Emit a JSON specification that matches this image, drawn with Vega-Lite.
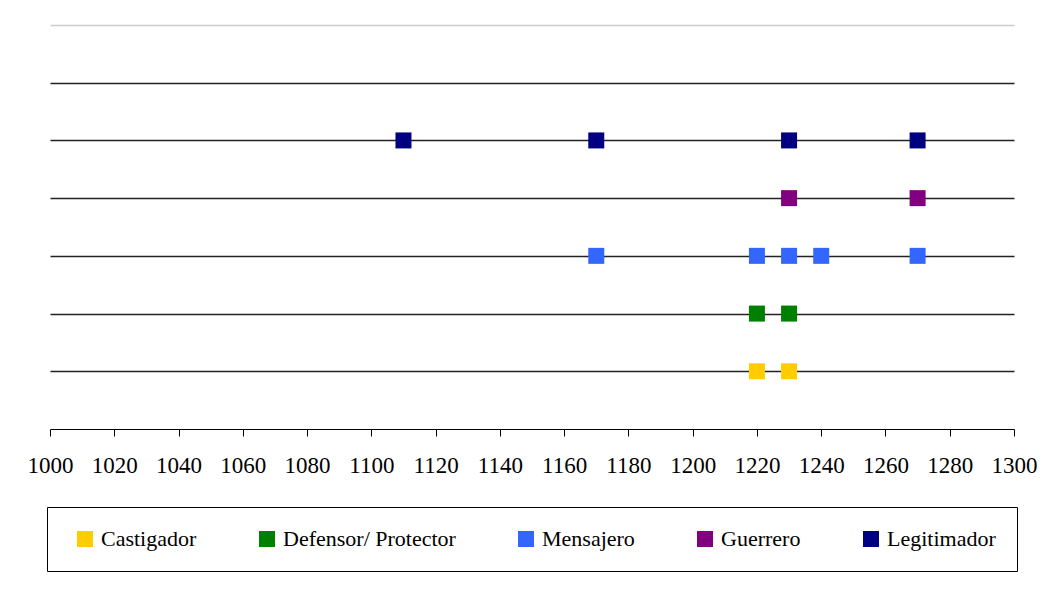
{
  "$schema": "https://vega.github.io/schema/vega-lite/v6.json",
  "autosize": "none",
  "padding": {"left": 50, "top": 25, "right": 32, "bottom": 161},
  "width": 964,
  "height": 404,
  "background": "white",
  "config": {
    "view": {"stroke": null},
    "font": "Liberation Serif"
  },
  "data": {
    "values": [
      {"year": 1220, "level": 1, "role": "Castigador"},
      {"year": 1230, "level": 1, "role": "Castigador"},
      {"year": 1220, "level": 2, "role": "Defensor/ Protector"},
      {"year": 1230, "level": 2, "role": "Defensor/ Protector"},
      {"year": 1170, "level": 3, "role": "Mensajero"},
      {"year": 1220, "level": 3, "role": "Mensajero"},
      {"year": 1230, "level": 3, "role": "Mensajero"},
      {"year": 1240, "level": 3, "role": "Mensajero"},
      {"year": 1270, "level": 3, "role": "Mensajero"},
      {"year": 1230, "level": 4, "role": "Guerrero"},
      {"year": 1270, "level": 4, "role": "Guerrero"},
      {"year": 1110, "level": 5, "role": "Legitimador"},
      {"year": 1170, "level": 5, "role": "Legitimador"},
      {"year": 1230, "level": 5, "role": "Legitimador"},
      {"year": 1270, "level": 5, "role": "Legitimador"}
    ]
  },
  "mark": {"type": "point", "shape": "square", "filled": true, "size": 256, "opacity": 1},
  "encoding": {
    "x": {
      "field": "year",
      "type": "quantitative",
      "scale": {"domain": [1000, 1300], "nice": false, "zero": false},
      "axis": {
        "title": null,
        "values": [1000, 1020, 1040, 1060, 1080, 1100, 1120, 1140, 1160, 1180, 1200, 1220, 1240, 1260, 1280, 1300],
        "format": "d",
        "grid": false,
        "domainColor": "black",
        "domainWidth": 1,
        "tickColor": "black",
        "tickSize": 7,
        "labelFont": "Liberation Serif",
        "labelFontSize": 23,
        "labelColor": "black",
        "labelPadding": 18,
        "labelFlush": false,
        "labelOverlap": false
      }
    },
    "y": {
      "field": "level",
      "type": "quantitative",
      "scale": {"domain": [0, 7], "nice": false},
      "axis": {
        "title": null,
        "values": [1, 2, 3, 4, 5, 6, 7],
        "labels": false,
        "ticks": false,
        "domain": false,
        "grid": true,
        "gridColor": {"condition": {"test": "datum.value == 7", "value": "#cccccc"}, "value": "#222222"},
        "gridWidth": 1.6,
        "gridOpacity": 1
      }
    },
    "color": {
      "field": "role",
      "type": "nominal",
      "scale": {
        "domain": ["Castigador", "Defensor/ Protector", "Mensajero", "Guerrero", "Legitimador"],
        "range": ["#FFCC00", "#008000", "#3366FF", "#800080", "#000080"]
      },
      "legend": {
        "title": null,
        "orient": "none",
        "direction": "horizontal",
        "legendX": -3,
        "legendY": 482,
        "strokeColor": "black",
        "fillColor": "white",
        "padding": 21,
        "symbolOffset": 6,
        "symbolType": "square",
        "symbolSize": 256,
        "symbolStrokeWidth": 0,
        "symbolOpacity": 1,
        "labelFont": "Liberation Serif",
        "labelFontSize": 22,
        "labelColor": "black",
        "labelOffset": 5,
        "columnPadding": 53,
        "labelLimit": 400
      }
    }
  }
}
